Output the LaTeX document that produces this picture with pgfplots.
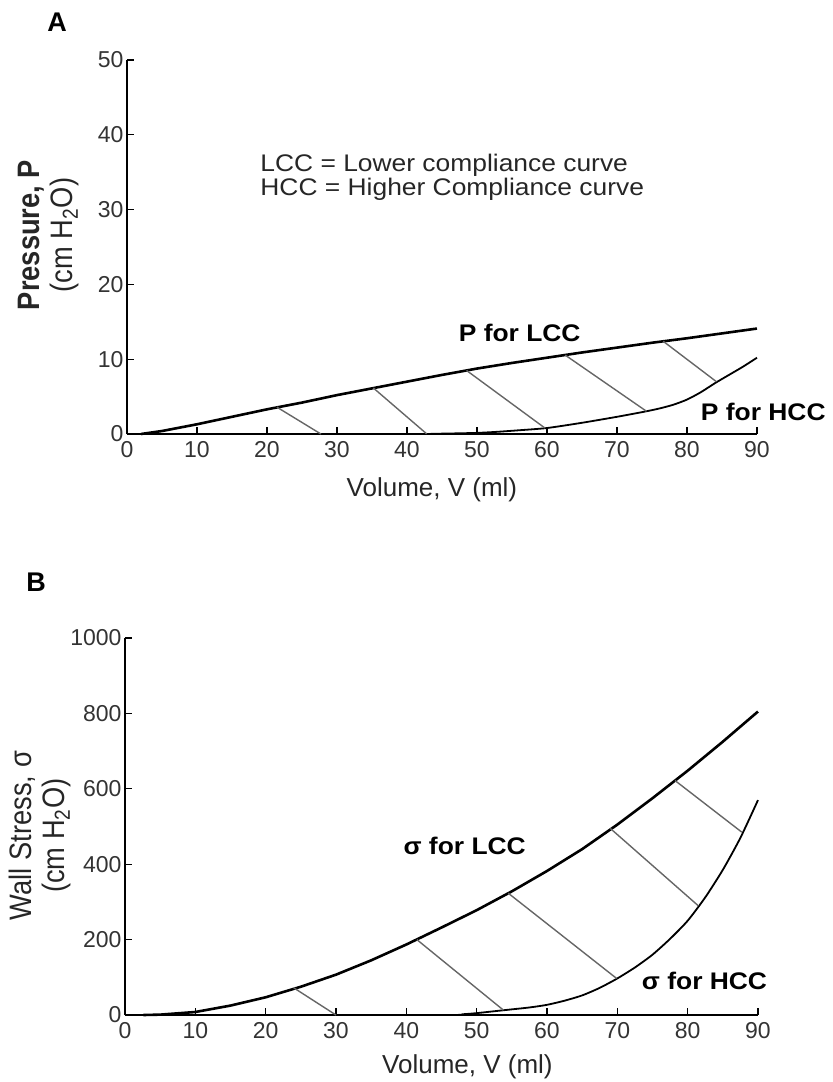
\documentclass[border=0pt]{standalone}
\usepackage{fontspec}
\setmainfont{Liberation Sans}[FakeStretch=1.1]
\newfontfamily\plainsans{Liberation Sans}
\newfontfamily\ylabfont{Liberation Sans}[FakeStretch=0.88]
\usepackage{pgfplots}
\pgfplotsset{compat=1.18}

\pgfplotsset{
  mstyle/.style={
    scale only axis, clip=false,
    axis x line*=bottom, axis y line*=left,
    axis line style={line width=0.6pt, black},
    tick align=inside, major tick length=3.5pt,
    tick style={line width=0.6pt, black},
    xmin=0, xmax=90, xtick={0,10,...,90},
    /pgf/number format/assume math mode=true,
    /pgf/number format/1000 sep={},
    ticklabel style={font=\plainsans\fontsize{11.5}{13}\selectfont, text=black!80},
    yticklabel style={xshift=1.8pt},
    label style={text=black!85},
  },
  lcc/.style={black, line width=1.3pt, no marks},
  hcc/.style={black, line width=0.9pt, no marks, smooth, tension=0.4},
  hatch/.style={black!60, line width=0.7pt, no marks},
}

\begin{document}
\begin{tikzpicture}
\useasboundingbox (0,0) rectangle (416pt,-541pt);

\node[font=\plainsans\bfseries\fontsize{13.5}{15}\selectfont] at (28.5pt,-11pt) {A};
\node[font=\plainsans\bfseries\fontsize{13.5}{15}\selectfont] at (18pt,-291pt) {B};

% ---------------- Panel A ----------------
\begin{axis}[mstyle,
  at={(63.5pt,-217pt)}, anchor=south west,
  width=315pt, height=187pt,
  ymin=0, ymax=50, ytick={0,10,...,50},
  xlabel={Volume, V (ml)},
  xlabel style={at={(axis description cs:0.484,0)}, anchor=base, yshift=-31.3pt, font=\plainsans\fontsize{13}{15}\selectfont},
  ylabel={\textbf{Pressure, P}\\(cm H\textsubscript{2}O)},
  ylabel style={at={(axis description cs:-0.065,0.532)}, anchor=south, align=center, font=\ylabfont\fontsize{15.5}{16.5}\selectfont},
]
\addplot[lcc] coordinates {
(2,0) (5,0.4) (10,1.3) (15,2.3) (20,3.3) (25,4.2) (30,5.2) (35,6.1) (40,7.0)
(45,7.9) (50,8.75) (55,9.5) (60,10.2) (65,10.9) (70,11.55) (75,12.2) (80,12.8)
(85,13.45) (90,14.1)};
\addplot[hcc] coordinates {
(3,0) (40,0) (45,0.05) (50,0.15) (53,0.3) (56,0.5) (60,0.8) (65,1.5) (70,2.3)
(74,3.0) (76,3.4) (78,3.9) (80,4.6) (82,5.6) (84,6.8) (86,7.9) (88,9.0) (90,10.2)};
\addplot[hatch] coordinates {(21.4,3.6) (27.7,0)};
\addplot[hatch] coordinates {(35.2,6.15) (42.8,0.03)};
\addplot[hatch] coordinates {(48.5,8.5) (59.7,0.8)};
\addplot[hatch] coordinates {(62.6,10.55) (74.2,3.05)};
\addplot[hatch] coordinates {(76.6,12.4) (84.2,7.0)};

\node[anchor=base west, inner sep=0pt, font=\fontsize{12}{14}\selectfont, text=black!85] at (axis cs:19.0,35.07) {LCC = Lower compliance curve};
\node[anchor=base west, inner sep=0pt, font=\fontsize{12}{14}\selectfont, text=black!85] at (axis cs:19.0,31.95) {HCC = Higher Compliance curve};
\node[font=\bfseries\fontsize{12}{14}\selectfont] at (axis cs:56.1,13.5) {P for LCC};
\node[font=\bfseries\fontsize{12}{14}\selectfont] at (axis cs:90.9,2.9) {P for HCC};
\end{axis}

% ---------------- Panel B ----------------
\begin{axis}[mstyle,
  at={(62.5pt,-507.5pt)}, anchor=south west,
  width=316.5pt, height=188.5pt,
  ymin=0, ymax=1000, ytick={0,200,...,1000},
  xlabel={Volume, V (ml)},
  xlabel style={at={(axis description cs:0.541,0)}, anchor=base, yshift=-29.2pt, font=\plainsans\fontsize{13}{15}\selectfont},
  ylabel={Wall Stress, σ\\(cm H\textsubscript{2}O)},
  ylabel style={at={(axis description cs:-0.074,0.476)}, anchor=south, align=center, font=\ylabfont\fontsize{15.5}{16.5}\selectfont},
]
\addplot[lcc] coordinates {
(2.6,0) (5,1) (10,8) (15,25) (20,47) (25,75) (30,107) (35,145) (40,187)
(45,232) (50,278) (55,328) (60,382) (65,440) (70,505) (75,575) (80,648)
(85,725) (90,805)};
\addplot[hcc] coordinates {
(3,0) (45,0) (48,2) (50,5) (52,9) (55,15) (57.5,20) (60,27) (62.5,38) (65,52)
(67.5,72) (70,97) (72.5,126) (75,160) (77.5,202) (80,250) (82.5,312) (85,385)
(87.5,470) (90,570)};
\addplot[hatch] coordinates {(24,72) (30,0)};
\addplot[hatch] coordinates {(41.5,200) (53.8,13)};
\addplot[hatch] coordinates {(54.5,323) (69.9,97)};
\addplot[hatch] coordinates {(69,495) (81.5,290)};
\addplot[hatch] coordinates {(78.2,622) (87.7,485)};

\node[font=\bfseries\fontsize{12}{14}\selectfont] at (axis cs:48.3,448) {σ for LCC};
\node[font=\bfseries\fontsize{12}{14}\selectfont] at (axis cs:82.4,90) {σ for HCC};
\end{axis}
\end{tikzpicture}
\end{document}
